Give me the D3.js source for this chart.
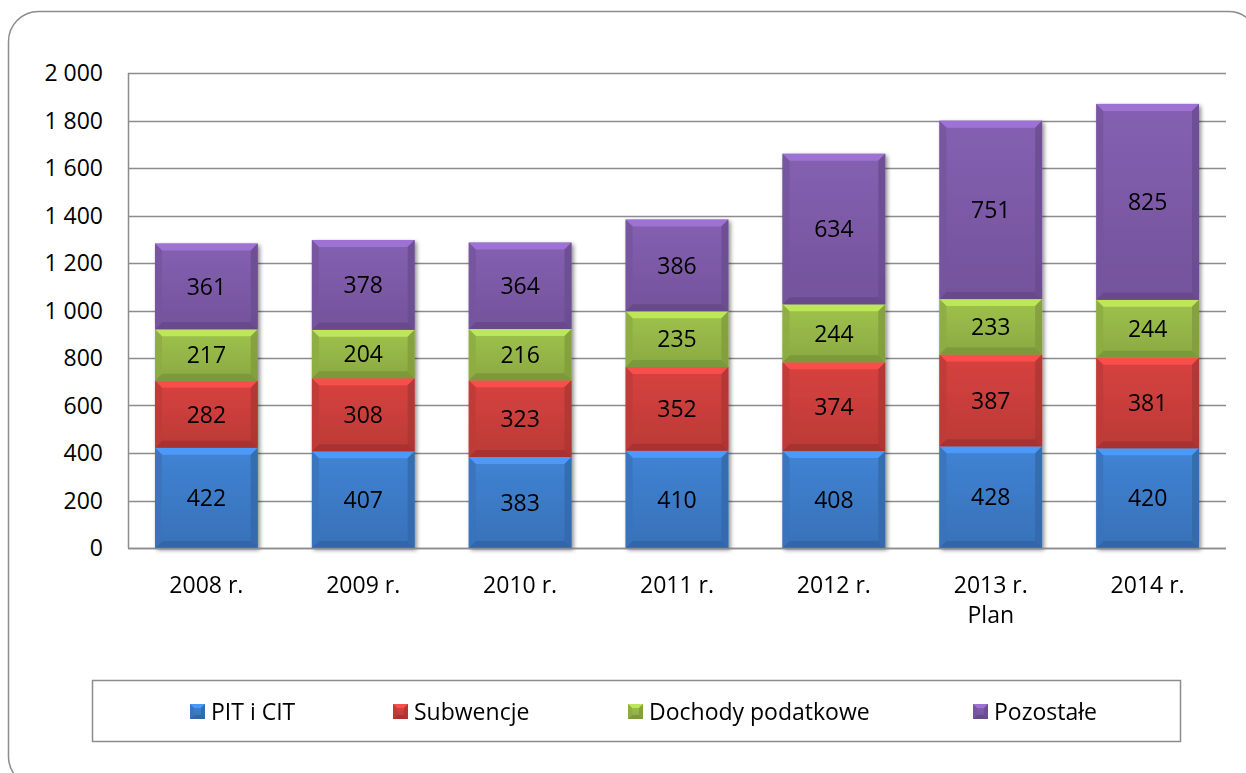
<!DOCTYPE html>
<html>
<head>
<meta charset="utf-8">
<script src="https://cdn.jsdelivr.net/npm/d3@7"></script>
<style>
  body { margin: 0; background: #fff; }
  svg { display: block; font-family: "Open Sans", "Noto Sans", sans-serif; }
</style>
</head>
<body>
<svg id="chart" width="1246" height="773"></svg>
<script>
// data
const years = ["2008 r.", "2009 r.", "2010 r.", "2011 r.", "2012 r.", "2013 r.|Plan", "2014 r."];
const seriesNames = ["PIT i CIT", "Subwencje", "Dochody podatkowe", "Pozostałe"];
const pitCit = [422, 407, 383, 410, 408, 428, 420];
const subwencje = [282, 308, 323, 352, 374, 387, 381];
const dochody = [217, 204, 216, 235, 244, 233, 244];
const pozostale = [361, 378, 364, 386, 634, 751, 825];
const yTicks = [0, 200, 400, 600, 800, 1000, 1200, 1400, 1600, 1800, 2000];

const colors = ["#3d7cc9", "#cc3f3c", "#97b948", "#7e5ba9"];
const seriesValues = [pitCit, subwencje, dochody, pozostale];
const fontSize = 23;

const svg = d3.select("#chart");

// outer frame
svg.append("rect")
  .attr("x", 8.5).attr("y", 11.5)
  .attr("width", 1250).attr("height", 775)
  .attr("rx", 30)
  .attr("fill", "#fff")
  .attr("stroke", "#8c8c8c")
  .attr("stroke-width", 1.5);

const plot = { left: 128, right: 1226, top: 73, bottom: 548 };

const x = d3.scaleBand()
  .domain(years)
  .range([plot.left, plot.right])
  .paddingInner(0.345)
  .paddingOuter(0.172);

const y = d3.scaleLinear()
  .domain([0, 2000])
  .range([plot.bottom, plot.top]);

const fmt = v => d3.format(",")(v).replace(/,/g, " ");

// gridlines
svg.append("g")
  .selectAll("line")
  .data(yTicks)
  .enter()
  .append("line")
  .attr("x1", plot.left)
  .attr("x2", plot.right)
  .attr("y1", d => Math.round(y(d)) + 0.5)
  .attr("y2", d => Math.round(y(d)) + 0.5)
  .attr("stroke", "#8c8c8c")
  .attr("stroke-width", 1.5);

// y axis line
svg.append("line")
  .attr("x1", plot.left + 0.5).attr("x2", plot.left + 0.5)
  .attr("y1", plot.top).attr("y2", plot.bottom)
  .attr("stroke", "#8c8c8c")
  .attr("stroke-width", 1.5);

// y tick labels
svg.append("g")
  .selectAll("text")
  .data(yTicks)
  .enter()
  .append("text")
  .attr("x", 103)
  .attr("y", d => y(d))
  .attr("dy", "0.36em")
  .attr("text-anchor", "end")
  .attr("font-size", fontSize)
  .attr("fill", "#000")
  .text(fmt);

// stacked data
const rows = years.map((yr, i) => {
  const r = { year: yr };
  seriesNames.forEach((s, j) => { r[s] = seriesValues[j][i]; });
  return r;
});
const stack = d3.stack().keys(seriesNames)(rows);

const defs = svg.append("defs");
const shadow = defs.append("filter").attr("id", "shadow")
  .attr("x", "-10%").attr("y", "-10%").attr("width", "130%").attr("height", "130%");
shadow.append("feGaussianBlur").attr("in", "SourceAlpha").attr("stdDeviation", 2.2);
shadow.append("feOffset").attr("dx", 2).attr("dy", 2).attr("result", "b");
shadow.append("feComponentTransfer").append("feFuncA").attr("type", "linear").attr("slope", 0.45);
const merge = shadow.append("feMerge");
merge.append("feMergeNode");
merge.append("feMergeNode").attr("in", "SourceGraphic");

colors.forEach((c, j) => {
  const g = defs.append("linearGradient").attr("id", "grad" + j)
    .attr("x1", 0).attr("y1", 0).attr("x2", 0).attr("y2", 1);
  g.append("stop").attr("offset", "0%").attr("stop-color", d3.color(c).brighter(0.15));
  g.append("stop").attr("offset", "100%").attr("stop-color", d3.color(c).darker(0.25));
});

// draw a bevelled box
function bevelBox(g, x0, y0, w, h, j, b) {
  const c = colors[j];
  g.append("rect")
    .attr("x", x0).attr("y", y0).attr("width", w).attr("height", h)
    .attr("fill", `url(#grad${j})`);
  const x1 = x0 + w, y1 = y0 + h;
  const faces = [
    { pts: [[x0, y0], [x1, y0], [x1 - b, y0 + b], [x0 + b, y0 + b]], col: d3.color(c).brighter(0.7) },
    { pts: [[x0, y1], [x1, y1], [x1 - b, y1 - b], [x0 + b, y1 - b]], col: d3.color(c).darker(0.6) },
    { pts: [[x0, y0], [x0 + b, y0 + b], [x0 + b, y1 - b], [x0, y1]], col: d3.color(c).darker(0.2) },
    { pts: [[x1, y0], [x1 - b, y0 + b], [x1 - b, y1 - b], [x1, y1]], col: d3.color(c).darker(0.45) }
  ];
  faces.forEach(f => {
    g.append("polygon")
      .attr("points", f.pts.map(p => p.join(",")).join(" "))
      .attr("fill", f.col)
      .attr("opacity", 0.85);
  });
}

const bars = svg.append("g").attr("filter", "url(#shadow)");
stack.forEach((layer, j) => {
  layer.forEach(d => {
    const x0 = x(d.data.year);
    const yTop = y(d[1]), yBot = y(d[0]);
    bevelBox(bars, x0, yTop, x.bandwidth(), yBot - yTop, j, 7);
  });
});

// data labels
const labels = svg.append("g");
stack.forEach((layer, j) => {
  layer.forEach(d => {
    labels.append("text")
      .attr("x", x(d.data.year) + x.bandwidth() / 2)
      .attr("y", (y(d[0]) + y(d[1])) / 2)
      .attr("dy", "0.36em")
      .attr("text-anchor", "middle")
      .attr("font-size", fontSize)
      .attr("fill", "#000")
      .text(d[1] - d[0]);
  });
});

// x axis line
svg.append("line")
  .attr("x1", plot.left).attr("x2", plot.right)
  .attr("y1", plot.bottom + 0.5).attr("y2", plot.bottom + 0.5)
  .attr("stroke", "#8c8c8c")
  .attr("stroke-width", 1.5);

// x labels
const xl = svg.append("g")
  .selectAll("text")
  .data(years)
  .enter()
  .append("text")
  .attr("x", d => x(d) + x.bandwidth() / 2)
  .attr("y", 593)
  .attr("text-anchor", "middle")
  .attr("font-size", fontSize)
  .attr("fill", "#000");
xl.each(function(d) {
  d.split("|").forEach((line, k) => {
    d3.select(this).append("tspan")
      .attr("x", x(d) + x.bandwidth() / 2)
      .attr("dy", k === 0 ? 0 : 30)
      .text(line);
  });
});

// legend
svg.append("rect")
  .attr("x", 92.5).attr("y", 680.5)
  .attr("width", 1088).attr("height", 61)
  .attr("fill", "#fff")
  .attr("stroke", "#8c8c8c")
  .attr("stroke-width", 1.5);

const legendX = [190, 393, 628, 973];
seriesNames.forEach((s, j) => {
  const g = svg.append("g");
  bevelBox(g, legendX[j], 704, 15, 15, j, 4);
  g.append("text")
    .attr("x", legendX[j] + 21)
    .attr("y", 712)
    .attr("dy", "0.36em")
    .attr("font-size", fontSize)
    .attr("fill", "#000")
    .text(s);
});
</script>
</body>
</html>
